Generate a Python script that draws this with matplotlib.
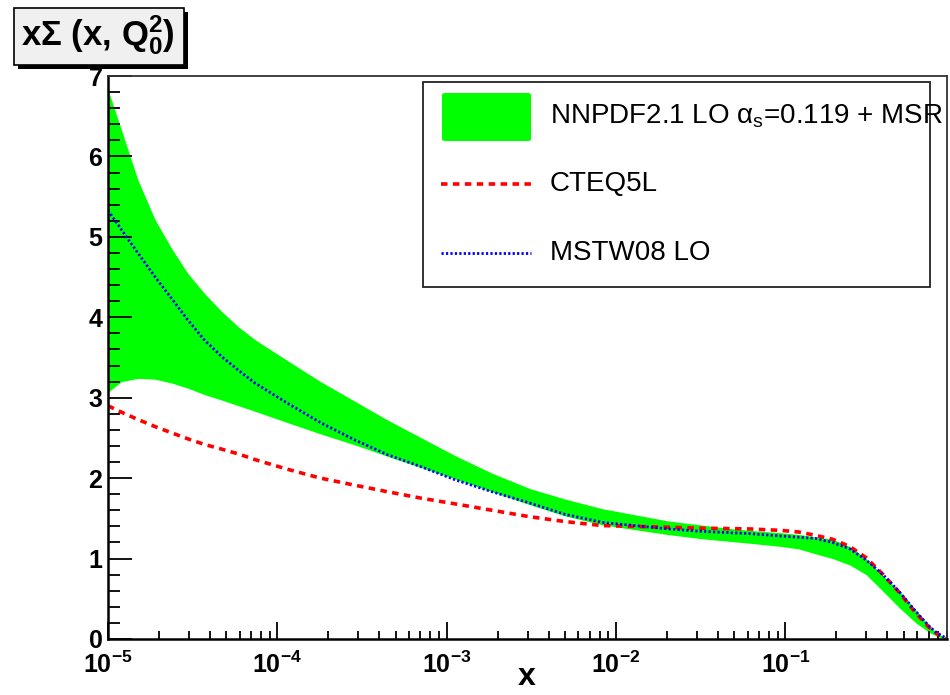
import matplotlib.pyplot as plt
from matplotlib.patches import Rectangle, FancyBboxPatch
from matplotlib.lines import Line2D
from matplotlib.ticker import LogLocator, MultipleLocator, NullFormatter

plt.rcParams["font.family"] = "Liberation Sans"
plt.rcParams["mathtext.fontset"] = "custom"
plt.rcParams["mathtext.rm"] = "Liberation Sans"
plt.rcParams["mathtext.bf"] = "Liberation Sans:bold"
plt.rcParams["mathtext.default"] = "regular"

# values
x = [1.0e-5, 1.2e-5, 1.5e-5, 1.9e-5, 2.4e-5, 2.95e-5, 3.7e-5, 4.7e-5, 5.9e-5,
     7.4e-5, 1.15e-4, 1.8e-4, 2.9e-4, 4.5e-4, 7.1e-4, 1.12e-3, 1.86e-3, 3.1e-3,
     5.0e-3, 8.3e-3, 0.020, 0.031, 0.049, 0.062, 0.095, 0.12, 0.15, 0.19, 0.24,
     0.30, 0.37, 0.47, 0.59, 0.71, 0.79, 0.89]
nnpdf_hi = [6.83, 6.33, 5.71, 5.21, 4.84, 4.55, 4.30, 4.07, 3.88, 3.72, 3.46,
            3.20, 2.95, 2.72, 2.50, 2.28, 2.06, 1.87, 1.74, 1.62, 1.47, 1.42,
            1.37, 1.35, 1.32, 1.30, 1.27, 1.24, 1.15, 1.00, 0.80, 0.60, 0.36,
            0.16, 0.07, 0.01]
nnpdf_lo = [3.07, 3.20, 3.24, 3.23, 3.18, 3.12, 3.04, 2.97, 2.90, 2.83, 2.69,
            2.55, 2.41, 2.27, 2.13, 1.99, 1.83, 1.67, 1.53, 1.42, 1.30, 1.25,
            1.21, 1.19, 1.15, 1.12, 1.06, 1.00, 0.92, 0.80, 0.61, 0.39, 0.20,
            0.08, 0.03, 0.0]
mstw = [5.33, 5.09, 4.80, 4.50, 4.22, 3.97, 3.72, 3.51, 3.34, 3.18, 2.93, 2.69,
        2.47, 2.29, 2.14, 1.98, 1.83, 1.69, 1.55, 1.45, 1.37, 1.34, 1.32, 1.31,
        1.28, 1.265, 1.25, 1.20, 1.12, 0.98, 0.816, 0.589, 0.34, 0.153, 0.07,
        0.01]
cteq = [2.90, 2.82, 2.73, 2.64, 2.56, 2.49, 2.42, 2.36, 2.30, 2.23, 2.11, 2.00,
        1.91, 1.83, 1.75, 1.68, 1.60, 1.52, 1.46, 1.41, 1.39, 1.378, 1.372,
        1.368, 1.35, 1.33, 1.29, 1.24, 1.15, 1.01, 0.82, 0.58, 0.32, 0.14, 0.06,
        0.01]

labels = ["NNPDF2.1 LO $\\alpha_{s}$=0.119 + MSR", "CTEQ5L", "MSTW08 LO"]

W, H = 950, 695
fig = plt.figure(figsize=(W / 100, H / 100), dpi=100)
ax = fig.add_axes([108 / W, 56 / H, 839 / W, 563 / H])

ax.fill_between(x, nnpdf_lo, nnpdf_hi, color="#00ff00", linewidth=0)
ax.plot(x, cteq, color="red", lw=2.6, dashes=(1.8, 1.5))
ax.plot(x, mstw, color="blue", lw=2.0, dashes=(0.8, 0.8))

ax.set_xscale("log")
ax.set_xlim(1e-5, 0.9)
ax.set_ylim(0, 7)
ax.xaxis.set_major_locator(LogLocator(base=10, numticks=10))
ax.xaxis.set_minor_locator(LogLocator(base=10, subs=range(2, 10), numticks=50))
ax.xaxis.set_minor_formatter(NullFormatter())
ax.yaxis.set_major_locator(MultipleLocator(1))
ax.yaxis.set_minor_locator(MultipleLocator(0.2))

ax.tick_params(axis="both", which="both", direction="in", top=False, right=False,
               color="black", width=1.3)
ax.tick_params(axis="x", which="major", length=12, pad=9, labelsize=18)
ax.tick_params(axis="x", which="minor", length=6)
ax.tick_params(axis="y", which="major", length=17, pad=4, labelsize=18)
ax.tick_params(axis="y", which="minor", length=8.5)
for lab in ax.get_xticklabels() + ax.get_yticklabels():
    lab.set_fontweight("bold")
for side in ["left", "bottom"]:
    ax.spines[side].set_linewidth(1.8)
for side in ["top", "right"]:
    ax.spines[side].set_linewidth(1.3)
    ax.spines[side].set_color("#333333")

fig.text(527 / W, 1 - 677 / H, "x", fontsize=23, fontweight="bold",
         ha="center", va="center")

# title box with shadow
fig.patches.append(Rectangle((18 / W, 1 - 69 / H), 170 / W, 57 / H,
                             transform=fig.transFigure, facecolor="black",
                             edgecolor="none", zorder=1))
fig.patches.append(Rectangle((14 / W, 1 - 65 / H), 170 / W, 57 / H,
                             transform=fig.transFigure, facecolor="#f0f0f0",
                             edgecolor="black", linewidth=1.2, zorder=2))
fig.text(21 / W, 1 - 45 / H, "x\u03a3 (x, Q$_{0}^{2}$)", fontsize=25,
         fontweight="bold", ha="left", va="baseline", zorder=3)

# legend
fig.patches.append(Rectangle((423 / W, 1 - 287 / H), 507 / W, 205 / H,
                             transform=fig.transFigure, facecolor="white",
                             edgecolor="#222222", linewidth=1.3, zorder=5))
fig.patches.append(FancyBboxPatch((442 / W, 1 - 141 / H), 89 / W, 48 / H,
                                  boxstyle="round,pad=0,rounding_size=0.003",
                                  transform=fig.transFigure, facecolor="#00ff00",
                                  edgecolor="none", zorder=6))
fig.lines.append(Line2D([441 / W, 531 / W], [1 - 184 / H] * 2, transform=fig.transFigure,
                        color="red", lw=2.6, dashes=(1.8, 1.5), zorder=6))
fig.lines.append(Line2D([441 / W, 531 / W], [1 - 253 / H] * 2, transform=fig.transFigure,
                        color="blue", lw=2.0, dashes=(0.8, 0.8), zorder=6))
for lab, yp in zip(labels, [116, 184, 253]):
    fig.text(550 / W, 1 - yp / H, lab, fontsize=20, ha="left", va="center", zorder=7)

fig.savefig("out.png", dpi=100)
